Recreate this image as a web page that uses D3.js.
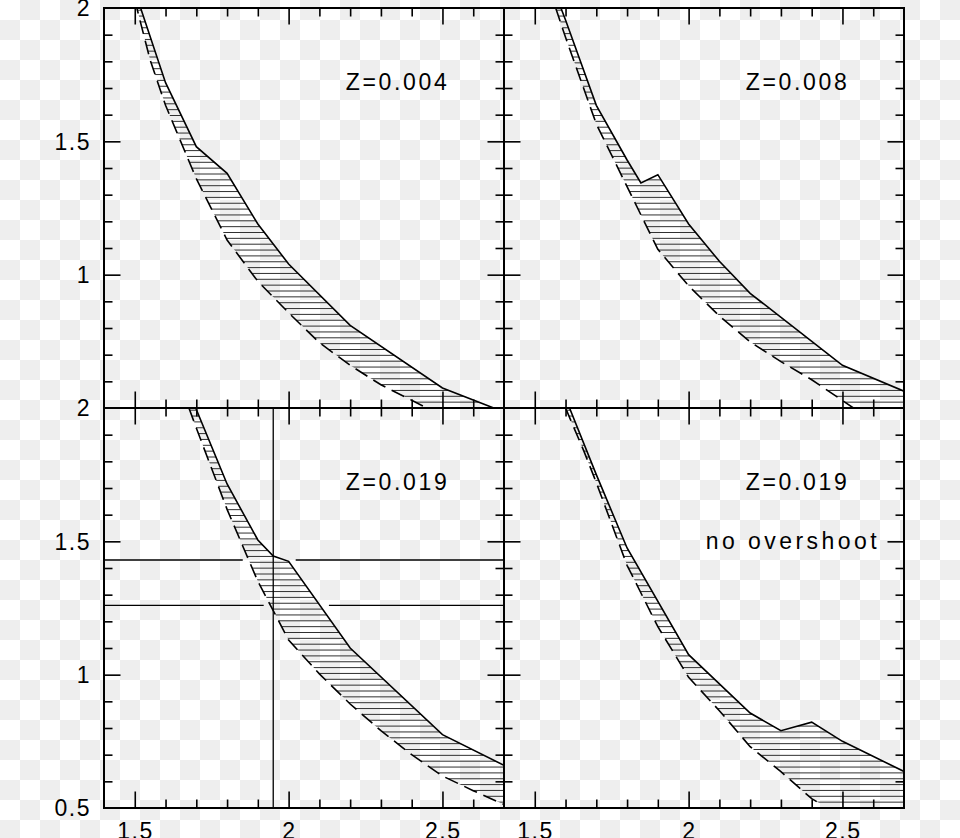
<!DOCTYPE html>
<html><head><meta charset="utf-8">
<script src="https://cdn.jsdelivr.net/npm/d3@7"></script>
<style>html,body{margin:0;padding:0;background:#fff;} svg{display:block}</style>
</head><body><svg id="c" width="960" height="838"></svg>
<script>
// ---------- data ----------
const xDomain = [1.4, 2.7];
const yDomain = [0.5, 2.0];
const xMajorTicks = [1.5, 2, 2.5];
const xMinorTicks = [1.5, 1.6, 1.7, 1.8, 1.9, 2.0, 2.1, 2.2, 2.3, 2.4, 2.5, 2.6];
const yMajorTicks = [1.0, 1.5];
const yMinorTicks = [0.6, 0.7, 0.8, 0.9, 1.0, 1.1, 1.2, 1.3, 1.4, 1.5, 1.6, 1.7, 1.8, 1.9];
const xTickLabels = ["1.5", "2", "2.5"];
const yTickLabelsTop = [[2, "2"], [1.5, "1.5"], [1, "1"]];
const yTickLabelsBottom = [[2, "2"], [1.5, "1.5"], [1, "1"], [0.5, "0.5"]];

const panelTitles = ["Z=0.004", "Z=0.008", "Z=0.019", "Z=0.019"];
const panelNote = "no overshoot";

const solid1X = [1.519, 1.6, 1.7, 1.8, 1.9, 2.0, 2.2, 2.5, 2.7];
const solid1Y = [2.0, 1.72, 1.48, 1.38, 1.19, 1.04, 0.81, 0.575, 0.485];
const dashed1X = [1.5, 1.55, 1.6, 1.7, 1.8, 1.9, 2.0, 2.1, 2.2, 2.3, 2.4, 2.5];
const dashed1Y = [2.03, 1.805, 1.635, 1.36, 1.13, 0.975, 0.857, 0.745, 0.66, 0.587, 0.529, 0.47];

const solid2X = [1.585, 1.6, 1.7, 1.8, 1.845, 1.9, 2.0, 2.1, 2.2, 2.5, 2.7];
const solid2Y = [2.0, 1.955, 1.635, 1.43, 1.344, 1.375, 1.19, 1.05, 0.93, 0.66, 0.563];
const dashed2X = [1.568, 1.6, 1.7, 1.8, 1.9, 2.0, 2.1, 2.2, 2.3, 2.4, 2.5, 2.6];
const dashed2Y = [2.0, 1.89, 1.565, 1.33, 1.095, 0.958, 0.845, 0.748, 0.674, 0.606, 0.528, 0.45];

const solid3X = [1.698, 1.8, 1.9, 1.95, 2.0, 2.2, 2.5, 2.7];
const solid3Y = [2.0, 1.715, 1.505, 1.445, 1.425, 1.1, 0.775, 0.66];
const dashed3X = [1.676, 1.7, 1.8, 1.9, 2.0, 2.1, 2.2, 2.3, 2.4, 2.5, 2.6, 2.7];
const dashed3Y = [2.0, 1.925, 1.62, 1.35, 1.13, 1.003, 0.89, 0.79, 0.70, 0.62, 0.565, 0.513];

const solid4X = [1.613, 1.7, 1.8, 2.0, 2.2, 2.3, 2.4, 2.5, 2.7];
const solid4Y = [2.0, 1.75, 1.475, 1.075, 0.856, 0.79, 0.822, 0.75, 0.637];
const dashed4X = [1.6, 1.66, 1.7, 1.8, 1.9, 2.0, 2.1, 2.2, 2.3, 2.4, 2.43];
const dashed4Y = [2.0, 1.8375, 1.72, 1.41, 1.18, 0.99, 0.865, 0.73, 0.636, 0.535, 0.515];

// cross-hair in the Z=0.019 panel
const crossX = 1.95;
const crossY = [1.43, 1.26];
const crossGaps = [[1.851, 2.023], [1.919, 2.131]];

// ---------- drawing ----------
const svg = d3.select("#c");
const defs = svg.append("defs");
const pat = defs.append("pattern").attr("id", "chk").attr("patternUnits", "userSpaceOnUse")
  .attr("width", 40).attr("height", 40);
pat.append("rect").attr("width", 40).attr("height", 40).attr("fill", "#ffffff");
pat.append("rect").attr("x", 20).attr("y", 0).attr("width", 20).attr("height", 20).attr("fill", "#eeeeee");
pat.append("rect").attr("x", 0).attr("y", 20).attr("width", 20).attr("height", 20).attr("fill", "#eeeeee");
svg.append("rect").attr("width", 960).attr("height", 838).attr("fill", "url(#chk)");

const PW = 400, PH = 400;
const X0 = [104, 504], Y0 = [8, 408];
const zip = (xs, ys) => xs.map((x, i) => [x, ys[i]]);

const panels = [
  {c: 0, r: 0, s: zip(solid1X, solid1Y), d: zip(dashed1X, dashed1Y), title: panelTitles[0]},
  {c: 1, r: 0, s: zip(solid2X, solid2Y), d: zip(dashed2X, dashed2Y), title: panelTitles[1]},
  {c: 0, r: 1, s: zip(solid3X, solid3Y), d: zip(dashed3X, dashed3Y), title: panelTitles[2], cross: true},
  {c: 1, r: 1, s: zip(solid4X, solid4Y), d: zip(dashed4X, dashed4Y), title: panelTitles[3], note: panelNote},
];

const FONT = "'Liberation Sans', Arial, Helvetica, sans-serif";

panels.forEach((p, i) => {
  const x0 = X0[p.c], y0 = Y0[p.r];
  const x = d3.scaleLinear().domain(xDomain).range([x0, x0 + PW]);
  const y = d3.scaleLinear().domain(yDomain).range([y0 + PH, y0]);
  const g = svg.append("g");

  defs.append("clipPath").attr("id", "pc" + i)
    .append("rect").attr("x", x0).attr("y", y0).attr("width", PW).attr("height", PH);

  // band polygon
  const sLast = p.s[p.s.length - 1], dLast = p.d[p.d.length - 1];
  const poly = p.s.concat([[xDomain[1] + 0.1, sLast[1]], [xDomain[1] + 0.1, 0.3], [dLast[0], 0.3]])
    .concat(p.d.slice().reverse());
  defs.append("clipPath").attr("id", "band" + i)
    .append("path").attr("d", "M" + poly.map(q => x(q[0]) + "," + y(q[1])).join("L") + "Z");

  const inner = g.append("g").attr("clip-path", `url(#pc${i})`);
  const hatch = inner.append("g").attr("clip-path", `url(#band${i})`);
  const hy = d3.range(y0 + PH - 5.85, y0, -5.85);
  hatch.selectAll("line").data(hy).join("line")
    .attr("x1", x0).attr("x2", x0 + PW).attr("y1", d => d).attr("y2", d => d)
    .attr("stroke", "#1a1a1a").attr("stroke-width", 0.9);

  const line = d3.line().x(q => x(q[0])).y(q => y(q[1]));
  inner.append("path").attr("d", line(p.s)).attr("fill", "none")
    .attr("stroke", "#000").attr("stroke-width", 1.6).attr("stroke-linejoin", "miter");
  inner.append("path").attr("d", line(p.d)).attr("fill", "none")
    .attr("stroke", "#000").attr("stroke-width", 1.6).attr("stroke-dasharray", "14,7");

  if (p.cross) {
    inner.append("line").attr("x1", x(crossX)).attr("x2", x(crossX)).attr("y1", y0).attr("y2", y0 + PH)
      .attr("stroke", "#000").attr("stroke-width", 1.3);
    crossY.forEach((cy, k) => {
      const segs = [[xDomain[0], crossGaps[k][0]], [crossGaps[k][1], xDomain[1]]];
      segs.forEach(sg => inner.append("line")
        .attr("x1", x(sg[0])).attr("x2", x(sg[1])).attr("y1", y(cy)).attr("y2", y(cy))
        .attr("stroke", "#000").attr("stroke-width", 1.3));
    });
  }

  // ticks via d3 axes (inward)
  const tickG = (axis, tx, ty) => {
    const a = g.append("g").attr("transform", `translate(${tx},${ty})`).call(axis);
    a.select(".domain").remove();
    a.selectAll("line").attr("stroke", "#000").attr("stroke-width", 1.6);
    a.selectAll("text").remove();
  };
  const xMin = xMinorTicks.filter(v => !xMajorTicks.includes(v));
  const yMin = yMinorTicks.filter(v => !yMajorTicks.includes(v));
  tickG(d3.axisBottom(x).tickValues(xMin).tickSize(-8.5), 0, y0 + PH);
  tickG(d3.axisBottom(x).tickValues(xMajorTicks).tickSize(-16.5), 0, y0 + PH);
  tickG(d3.axisTop(x).tickValues(xMin).tickSize(-8.5), 0, y0);
  tickG(d3.axisTop(x).tickValues(xMajorTicks).tickSize(-16.5), 0, y0);
  tickG(d3.axisLeft(y).tickValues(yMin).tickSize(-8.5), x0, 0);
  tickG(d3.axisLeft(y).tickValues(yMajorTicks).tickSize(-16.5), x0, 0);
  tickG(d3.axisRight(y).tickValues(yMin).tickSize(-8.5), x0 + PW, 0);
  tickG(d3.axisRight(y).tickValues(yMajorTicks).tickSize(-16.5), x0 + PW, 0);

  // frame
  g.append("rect").attr("x", x0).attr("y", y0).attr("width", PW).attr("height", PH)
    .attr("fill", "none").attr("stroke", "#000").attr("stroke-width", 2);

  // titles (positioned in panel pixel offsets)
  g.append("text").attr("x", x0 + 241.7).attr("y", y0 + 82).text(p.title)
    .attr("font-family", FONT).attr("font-size", 23).attr("fill", "#000")
    .attr("textLength", 101).attr("lengthAdjust", "spacing");
  if (p.note) {
    g.append("text").attr("x", x0 + 201.7).attr("y", y0 + 141).text(p.note)
      .attr("font-family", FONT).attr("font-size", 23).attr("fill", "#000")
      .attr("textLength", 171).attr("lengthAdjust", "spacing");
  }

  // tick labels
  if (p.c === 0) {
    const labs = p.r === 0 ? yTickLabelsTop : yTickLabelsBottom;
    labs.forEach(([v, t]) => {
      const tt = g.append("text").attr("x", 89.5).attr("y", y(v) + 8.3).attr("text-anchor", "end")
        .attr("font-family", FONT).attr("font-size", 23).attr("fill", "#000").text(t);
      if (t.length > 1) tt.attr("textLength", 35).attr("lengthAdjust", "spacing");
    });
  }
  if (p.r === 1) {
    xMajorTicks.forEach((v, k) => {
      const t = xTickLabels[k];
      const tt = g.append("text").attr("x", x(v)).attr("y", 839).attr("text-anchor", "middle")
        .attr("font-family", FONT).attr("font-size", 23).attr("fill", "#000").text(t);
      if (t.length > 1) tt.attr("textLength", 35).attr("lengthAdjust", "spacing");
    });
  }
});
</script></body></html>
